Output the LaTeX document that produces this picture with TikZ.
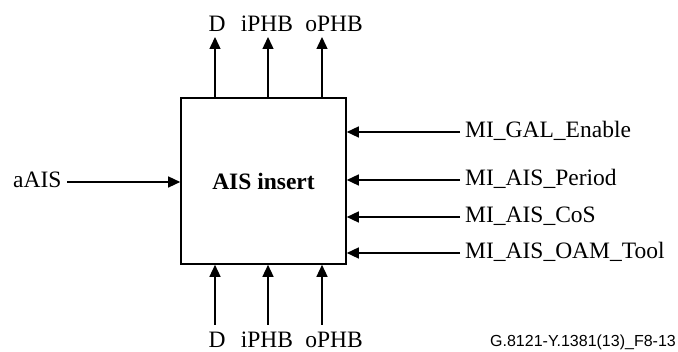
\documentclass[tikz,border=0pt]{standalone}
\usepackage{fontspec}
\setmainfont{Liberation Serif}
\newfontfamily\creditfont{Liberation Sans}
\usepackage{tikz}
\usetikzlibrary{arrows.meta,positioning,calc}
\tikzset{
  fblock/.style={rectangle,draw,line width=1.6pt,minimum width=165pt,minimum height=166pt,inner sep=0pt,font=\fontsize{23.5}{27}\selectfont\bfseries},
  sig/.style={-{Triangle[length=12pt,width=11pt]},line width=1.4pt},
  lbl/.style={inner sep=0pt,anchor=base},
  rlbl/.style={inner sep=0pt,anchor=base west}
}

\begin{document}
\begin{tikzpicture}[x=1pt,y=-1pt,font=\fontsize{23.5}{27}\selectfont]
\useasboundingbox (0,0) rectangle (678,352);
\node[fblock] (ais) at (263.5,181) {AIS insert};
% top outputs
\node[lbl] (dt) at (217,32) {D};
\node[lbl] (it) at (267,32) {iPHB};
\node[lbl] (ot) at (334,32) {oPHB};
\coordinate (dtip) at (215,37);
\coordinate (itip) at (268,37);
\coordinate (otip) at (322,37);
\draw[sig] (ais.north -| dtip) -- (dtip);
\draw[sig] (ais.north -| itip) -- (itip);
\draw[sig] (ais.north -| otip) -- (otip);
% bottom inputs
\node[lbl] (db) at (217,348) {D};
\node[lbl] (ib) at (267,348) {iPHB};
\node[lbl] (ob) at (334,348) {oPHB};
\coordinate (dsrc) at (215,325);
\coordinate (isrc) at (268,325);
\coordinate (osrc) at (322,325);
\draw[sig] (dsrc) -- (ais.south -| dsrc);
\draw[sig] (isrc) -- (ais.south -| isrc);
\draw[sig] (osrc) -- (ais.south -| osrc);
% left input
\node[lbl,anchor=base west] (aais) at (13,188) {aAIS};
\coordinate (asrc) at (67,182);
\draw[sig] (asrc) -- (ais.west |- asrc);
% management inputs
\node[rlbl] (gal) at (465,138) {MI\_GAL\_Enable};
\node[rlbl] (per) at (465,186) {MI\_AIS\_Period};
\node[rlbl] (cos) at (465,223) {MI\_AIS\_CoS};
\node[rlbl] (oam) at (465,259) {MI\_AIS\_OAM\_Tool};
\coordinate (gsrc) at (460,132);
\coordinate (psrc) at (460,180);
\coordinate (csrc) at (460,217);
\coordinate (msrc) at (460,253);
\draw[sig] (gsrc) -- (ais.east |- gsrc);
\draw[sig] (psrc) -- (ais.east |- psrc);
\draw[sig] (csrc) -- (ais.east |- csrc);
\draw[sig] (msrc) -- (ais.east |- msrc);
\node[inner sep=0pt,anchor=base east,font=\creditfont\fontsize{16}{19}\selectfont] (credit) at (676,347) {G.8121-Y.1381(13)\_F8-13};
\end{tikzpicture}
\end{document}
